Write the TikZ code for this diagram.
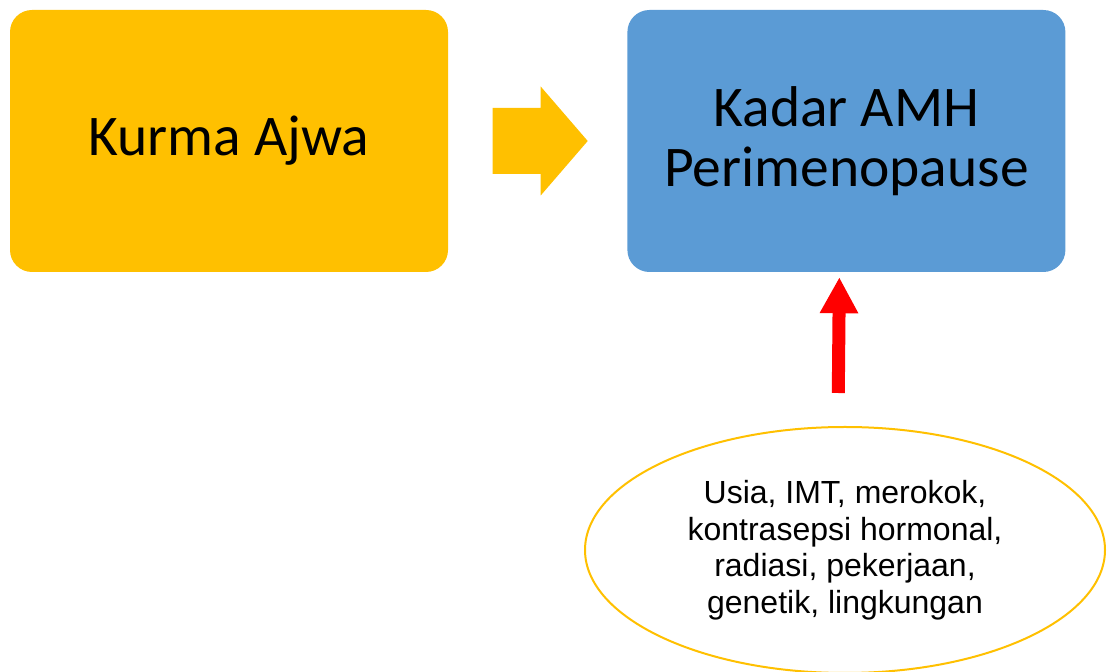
\documentclass[tikz,border=0pt]{standalone}
\usepackage{fontspec}
\setmainfont{Carlito}
\newfontfamily\arialfont{Liberation Sans}
\usetikzlibrary{arrows.meta,calc,positioning,shapes.geometric}
\definecolor{ajwa}{HTML}{FFC000}
\definecolor{amh}{HTML}{5B9BD5}
\tikzset{
  box/.style={rounded corners=22pt, minimum width=438pt, minimum height=262pt,
    align=center, inner sep=0pt, font=\fontsize{57.5}{60}\selectfont},
  factors/.style={ellipse, draw=ajwa, line width=2pt, fill=white,
    minimum width=520pt, minimum height=246pt, align=center, inner sep=0pt,
    font=\arialfont\fontsize{32}{36.5}\selectfont},
}

\begin{document}
\begin{tikzpicture}[x=1pt,y=1pt,>=Stealth]
      \useasboundingbox (0,0) rectangle (1109,672);
      % Kurma Ajwa
      \node[box,fill=ajwa] (kurma) at (229,531) {Kurma Ajwa};
      % Kadar AMH
      \node[box,fill=amh,right=179pt of kurma] (kadar) {Kadar AMH\\Perimenopause};
      % Faktor lain
      \node[factors] (faktor) at (845,122) {Usia, IMT, merokok,\\kontrasepsi hormonal,\\radiasi, pekerjaan,\\genetik, lingkungan};
      % Block arrow
      \coordinate (mid) at ($(kurma.east)!0.5!(kadar.west)$);
      \fill[ajwa] ($(mid)+(-45,33)$) -- ($(mid)+(3,33)$) -- ($(mid)+(3,54.5)$)
        -- ($(mid)+(50,0)$) -- ($(mid)+(3,-54.5)$) -- ($(mid)+(3,-33)$)
        -- ($(mid)+(-45,-33)$) -- cycle;
      % Red arrow
      \draw[-{Triangle[width=36pt,length=36pt]},line width=13pt,red,shorten <=33pt,shorten >=5pt]
        ([xshift=-7pt]faktor.north) -- ([xshift=-7pt]kadar.south);
    \end{tikzpicture}
\end{document}
